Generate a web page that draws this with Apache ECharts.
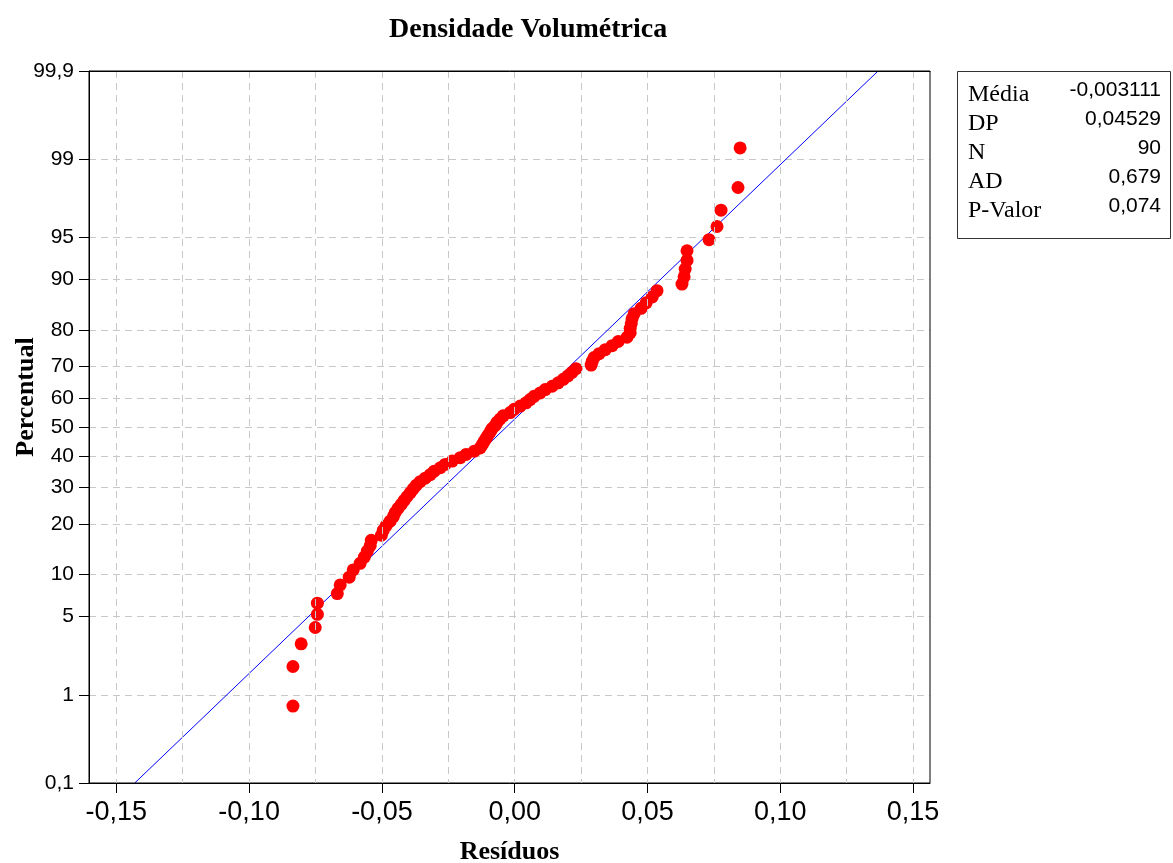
<!DOCTYPE html>
<html><head><meta charset="utf-8">
<script src="https://cdn.jsdelivr.net/npm/echarts@6/dist/echarts.min.js"></script>
<style>html,body{margin:0;padding:0;background:#fff}#c{width:1173px;height:863px}</style>
</head><body><div id="c"></div>
<script>
// ---- data ----
const residuos = [
 -0.0835,-0.0835,-0.0804,-0.0751,-0.0743,-0.0743,-0.0668,-0.0657,-0.0623,-0.0608,
 -0.0582,-0.0566,-0.0555,-0.0544,-0.0540,-0.0502,-0.0495,-0.0484,-0.0469,-0.0457,
 -0.0450,-0.0439,-0.0427,-0.0416,-0.0405,-0.0393,-0.0382,-0.0371,-0.0356,-0.0337,
 -0.0318,-0.0303,-0.0280,-0.0262,-0.0235,-0.0205,-0.0183,-0.0152,-0.0130,-0.0122,
 -0.0115,-0.0107,-0.0100,-0.0092,-0.0085,-0.0073,-0.0066,-0.0055,-0.0043,-0.0017,
 -0.0002,0.0021,0.0043,0.0058,0.0073,0.0096,0.0115,0.0141,0.0164,0.0183,
 0.0201,0.0216,0.0231,0.0288,0.0292,0.0299,0.0318,0.0341,0.0367,0.0390,
 0.0423,0.0435,0.0435,0.0439,0.0442,0.0450,0.0476,0.0495,0.0518,0.0536,
 0.0630,0.0638,0.0642,0.0649,0.0649,0.0732,0.0762,0.0777,0.0841,0.0849
];
const percentual = [
 0.77,1.88,2.99,4.09,5.20,6.31,7.41,8.52,9.62,10.73,
 11.84,12.94,14.05,15.15,16.26,17.37,18.47,19.58,20.69,21.79,
 22.90,24.00,25.11,26.22,27.32,28.43,29.54,30.64,31.75,32.85,
 33.96,35.07,36.17,37.28,38.38,39.49,40.60,41.70,42.81,43.92,
 45.02,46.13,47.23,48.34,49.45,50.55,51.66,52.77,53.87,54.98,
 56.08,57.19,58.30,59.40,60.51,61.62,62.72,63.83,64.93,66.04,
 67.15,68.25,69.36,70.46,71.57,72.68,73.78,74.89,76.00,77.10,
 78.21,79.31,80.42,81.53,82.63,83.74,84.85,85.95,87.06,88.16,
 89.27,90.38,91.48,92.59,93.70,94.80,95.91,97.01,98.12,99.23
];
const yTickPercents = [0.1,1,5,10,20,30,40,50,60,70,80,90,95,99,99.9];
const yTickLabels = ['0,1','1','5','10','20','30','40','50','60','70','80','90','95','99','99,9'];
const xTickValues = [-0.15,-0.10,-0.05,0,0.05,0.10,0.15];
const xTickLabels = ['-0,15','-0,10','-0,05','0,00','0,05','0,10','0,15'];
const xGridValues = [-0.15,-0.125,-0.10,-0.075,-0.05,-0.025,0,0.025,0.05,0.075,0.10,0.125,0.15];
const statLabels = ['Média','DP','N','AD','P-Valor'];
const statValues = ['-0,003111','0,04529','90','0,679','0,074'];
const media = -0.003111;
const dp = 0.04529;
const titulo = 'Densidade Volumétrica';

// ---- normal probability scale ----
function probit(p){
  const a=[-3.969683028665376e+01,2.209460984245205e+02,-2.759285104469687e+02,1.383577518672690e+02,-3.066479806614716e+01,2.506628277459239e+00];
  const b=[-5.447609879822406e+01,1.615858368580409e+02,-1.556989798598866e+02,6.680131188771972e+01,-1.328068155288572e+01];
  const c=[-7.784894002430293e-03,-3.223964580411365e-01,-2.400758277161838e+00,-2.549732539343734e+00,4.374664141464968e+00,2.938163982698783e+00];
  const d=[7.784695709041462e-03,3.224671290700398e-01,2.445134137142996e+00,3.754408661907416e+00];
  const pl=0.02425, ph=1-pl; let q,r;
  if(p<pl){q=Math.sqrt(-2*Math.log(p));return (((((c[0]*q+c[1])*q+c[2])*q+c[3])*q+c[4])*q+c[5])/((((d[0]*q+d[1])*q+d[2])*q+d[3])*q+1);}
  if(p<=ph){q=p-0.5;r=q*q;return (((((a[0]*r+a[1])*r+a[2])*r+a[3])*r+a[4])*r+a[5])*q/(((((b[0]*r+b[1])*r+b[2])*r+b[3])*r+b[4])*r+1);}
  q=Math.sqrt(-2*Math.log(1-p));return -(((((c[0]*q+c[1])*q+c[2])*q+c[3])*q+c[4])*q+c[5])/((((d[0]*q+d[1])*q+d[2])*q+d[3])*q+1);
}
const yTickZ = yTickPercents.map(p => probit(p/100));
const zLo = yTickZ[0], zHi = yTickZ[yTickZ.length-1];
const points = residuos.map((r,i) => [r, probit(percentual[i]/100)]);
const fitLine = [[media + dp*zLo, zLo], [media + dp*zHi, zHi]];

const gridDash = {color:'#c8c8c8', type:[7,5], width:1};
const chart = echarts.init(document.getElementById('c'), null, {renderer:'canvas'});
chart.setOption({
  animation:false,
  backgroundColor:'#fff',
  title:{text:titulo, left:384, top:11,
    textStyle:{fontFamily:'Liberation Serif', fontWeight:'bold', fontSize:28, color:'#000'}},
  grid:{left:89, right:243, top:71, bottom:80, containLabel:false, outerBoundsMode:'none',
    show:true, borderColor:'#000', borderWidth:1, backgroundColor:'transparent', z:4},
  xAxis:[{
    type:'value', min:-0.1603, max:0.1564, position:'bottom',
    axisLine:{show:true, onZero:false, lineStyle:{color:'#000', width:1}},
    axisTick:{show:true, length:10, customValues:xTickValues, lineStyle:{color:'#000'}},
    axisLabel:{customValues:xTickValues, margin:16, fontSize:27, color:'#000', fontFamily:'Liberation Sans',
      formatter:v => { const i = xTickValues.findIndex(t => Math.abs(t-v)<1e-9); return i>=0 ? xTickLabels[i] : ''; }},
    splitLine:{show:false},
    name:'Resíduos', nameLocation:'middle', nameGap:56,
    nameTextStyle:{fontFamily:'Liberation Serif', fontWeight:'bold', fontSize:26, color:'#000'}
  },{
    type:'value', min:-0.1603, max:0.1564, position:'top', z:5,
    axisLine:{show:true, onZero:false, lineStyle:{color:'#000', width:1}},
    axisTick:{show:false, customValues:xGridValues}, axisLabel:{show:false},
    splitLine:{show:true, lineStyle:gridDash}
  }],
  yAxis:{
    type:'value', min:zLo, max:zHi,
    axisLine:{show:true, onZero:false, lineStyle:{color:'#000', width:1}},
    axisTick:{show:true, length:10, customValues:yTickZ, lineStyle:{color:'#000'}},
    axisLabel:{customValues:yTickZ, margin:15, fontSize:21, color:'#000', fontFamily:'Liberation Sans',
      formatter:v => { const i = yTickZ.findIndex(t => Math.abs(t-v)<1e-9); return i>=0 ? yTickLabels[i] : ''; }},
    splitLine:{show:true, lineStyle:gridDash},
    name:'Percentual', nameLocation:'middle', nameGap:50, nameMoveOverlap:false,
    nameTextStyle:{fontFamily:'Liberation Serif', fontWeight:'bold', fontSize:26, color:'#000', padding:[0,0,0,60]}
  },
  series:[
    {type:'line', data:fitLine, symbol:'none', clip:true, z:2,
     lineStyle:{color:'#0000ff', width:1}, silent:true},
    {type:'scatter', data:points, symbol:'circle', symbolSize:13, z:3,
     itemStyle:{color:'#ff0000', opacity:1}, silent:true}
  ],
  graphic:[
    {type:'rect', left:957, top:71, shape:{width:213, height:167},
     style:{fill:'#fff', stroke:'#333', lineWidth:1}},
    ...statLabels.map((t,i) => ({type:'text', left:968, top:83 + i*29,
      style:{text:t, fontFamily:'Liberation Serif', fontSize:24, fill:'#000'}})),
    ...statValues.map((t,i) => ({type:'text', right:1173-1161, top:80 + i*29,
      style:{text:t, fontFamily:'Liberation Sans', fontSize:21, fill:'#000', align:'right'}}))
  ]
});
</script></body></html>
